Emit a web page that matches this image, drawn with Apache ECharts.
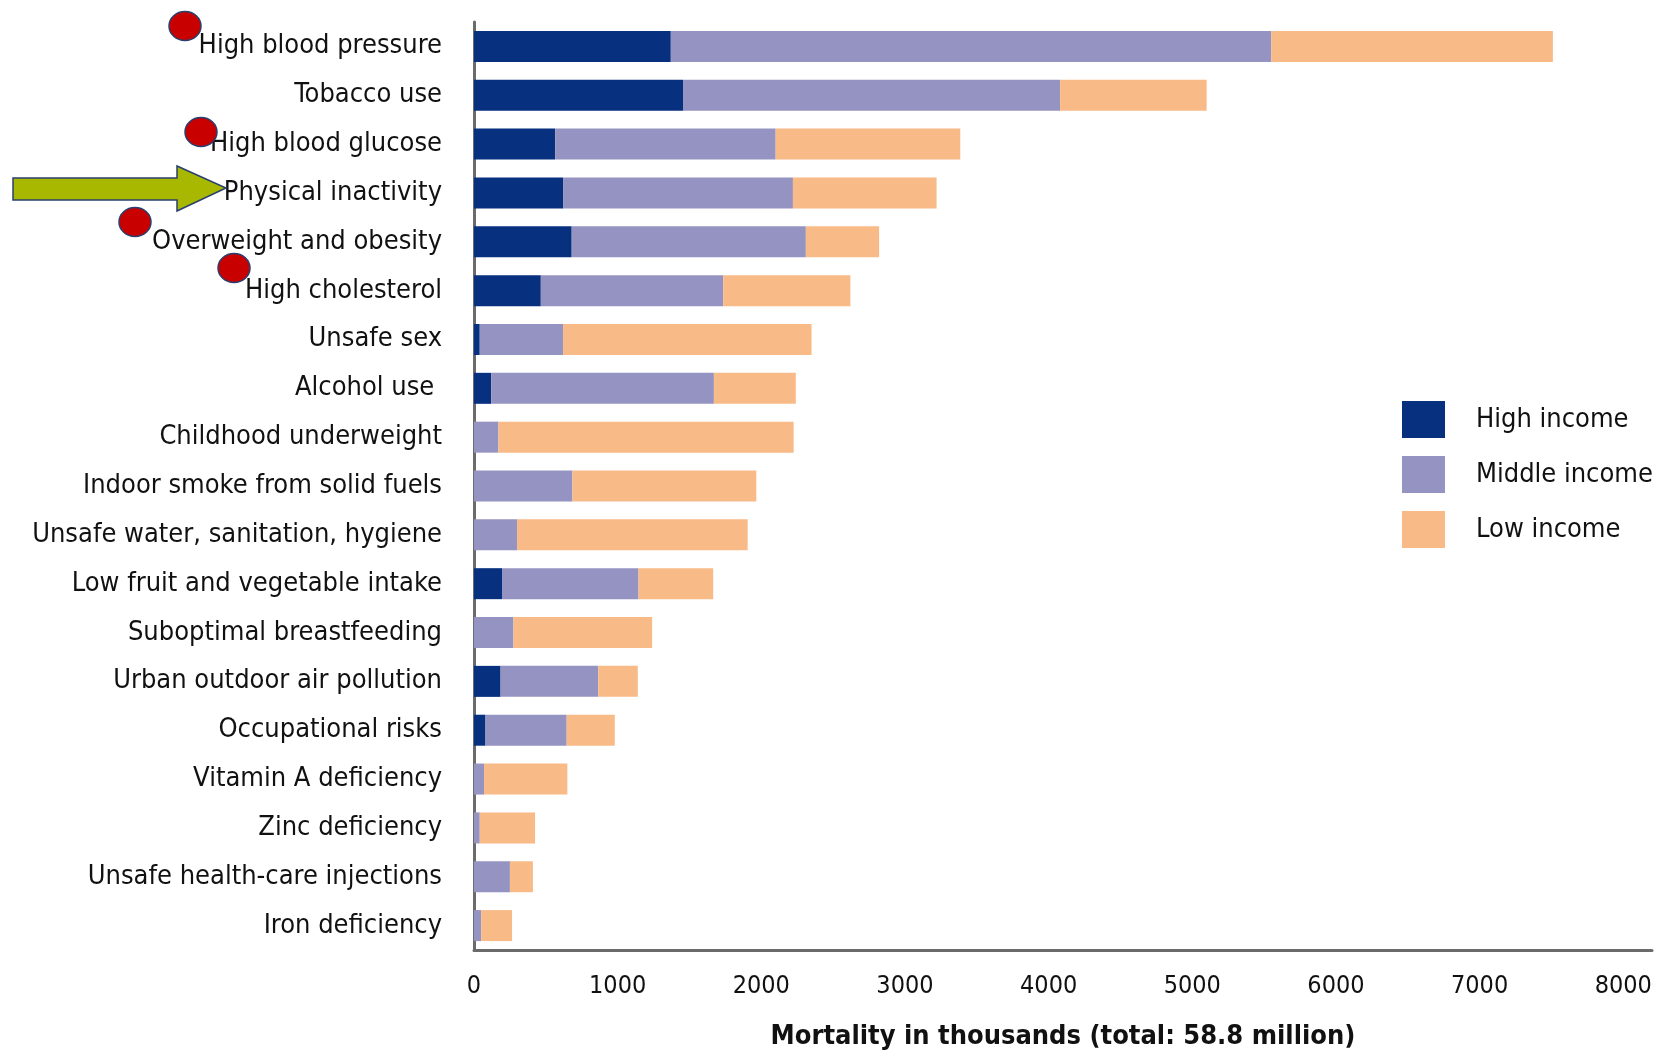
<!DOCTYPE html>
<html>
<head>
<meta charset="utf-8">
<title>Mortality by risk factor</title>
<script src="https://cdn.jsdelivr.net/npm/echarts@6/dist/echarts.min.js"></script>
<style>
  html, body { margin: 0; padding: 0; background: #fff; }
  #chart { width: 1660px; height: 1051px; }
</style>
</head>
<body>
<div id="chart"></div>
<script>
// risk factors, top to bottom
const riskFactors = [
  'High blood pressure', 'Tobacco use', 'High blood glucose', 'Physical inactivity',
  'Overweight and obesity', 'High cholesterol', 'Unsafe sex', 'Alcohol use ',
  'Childhood underweight', 'Indoor smoke from solid fuels', 'Unsafe water, sanitation, hygiene',
  'Low fruit and vegetable intake', 'Suboptimal breastfeeding', 'Urban outdoor air pollution',
  'Occupational risks', 'Vitamin A deficiency', 'Zinc deficiency',
  'Unsafe health-care injections', 'Iron deficiency'
]

// deaths in thousands, by income group
const highIncome = [1370, 1455, 565, 620, 680, 465, 40, 120, 0, 0, 0, 195, 0, 185, 80, 0, 0, 0, 0]
const middleIncome = [4180, 2625, 1535, 1600, 1630, 1270, 580, 1550, 170, 685, 300, 950, 275, 680, 565, 70, 40, 250, 50]
const lowIncome = [1960, 1020, 1285, 1000, 510, 885, 1730, 570, 2055, 1280, 1605, 520, 965, 275, 335, 580, 385, 160, 215]

const xTicks = [0, 1000, 2000, 3000, 4000, 5000, 6000, 7000, 8000]

const font = '"Liberation Sans Narrow", "DejaVu Sans Condensed", "Roboto Condensed", sans-serif'
const colors = ['#07307f', '#9593c1', '#f8ba86']

const chart = echarts.init(document.getElementById('chart'))

// red dots next to some labels + arrow pointing at physical inactivity
const dot = (cx, cy) => ({
  type: 'ellipse',
  shape: { cx, cy, rx: 16, ry: 14.5 },
  style: { fill: '#c80000', stroke: '#2a3f6e', lineWidth: 1.5 },
  z: 100
})

chart.setOption({
  animation: false,
  backgroundColor: '#fff',
  textStyle: { fontFamily: font },
  grid: { left: 474, top: 22, right: 8, bottom: 101, containLabel: false, outerBoundsMode: 'none' },
  legend: {
    orient: 'vertical',
    left: 1397,
    top: 396,
    itemWidth: 43,
    itemHeight: 37,
    itemGap: 18,
    icon: 'rect',
    textStyle: { fontFamily: font, fontSize: 27, color: '#111', padding: [0, 0, 0, 26] },
    data: ['High income', 'Middle income', 'Low income']
  },
  xAxis: {
    type: 'value',
    min: 0,
    max: 8200,
    interval: 1000,
    name: 'Mortality in thousands (total: 58.8 million)',
    nameLocation: 'middle',
    nameGap: 73,
    nameTextStyle: { fontFamily: font, fontSize: 27, fontWeight: 'bold', color: '#111' },
    axisLine: { show: true, lineStyle: { color: '#6b6b6b', width: 3 } },
    axisTick: { show: false },
    splitLine: { show: false },
    axisLabel: {
      fontFamily: font, fontSize: 25, color: '#111', margin: 24,
      formatter: v => (xTicks.includes(v) ? String(v) : '')
    }
  },
  yAxis: {
    type: 'category',
    inverse: true,
    data: riskFactors,
    axisLine: { show: true, lineStyle: { color: '#6b6b6b', width: 3 } },
    axisTick: { show: false },
    axisLabel: { fontFamily: font, fontSize: 27, color: '#111', margin: 32 }
  },
  series: [
    { name: 'High income', type: 'bar', stack: 'total', barWidth: 31, data: highIncome, itemStyle: { color: colors[0] } },
    { name: 'Middle income', type: 'bar', stack: 'total', barWidth: 31, data: middleIncome, itemStyle: { color: colors[1] } },
    { name: 'Low income', type: 'bar', stack: 'total', barWidth: 31, data: lowIncome, itemStyle: { color: colors[2] } }
  ],
  graphic: [
    dot(185, 26),
    dot(201, 132),
    dot(135, 222),
    dot(234, 268),
    {
      type: 'polygon',
      shape: { points: [[13, 178], [177, 178], [177, 166], [226, 188], [177, 211], [177, 200], [13, 200]] },
      style: { fill: '#a8b800', stroke: '#2a3f6e', lineWidth: 1.5 },
      z: 100
    }
  ]
})
</script>
</body>
</html>
